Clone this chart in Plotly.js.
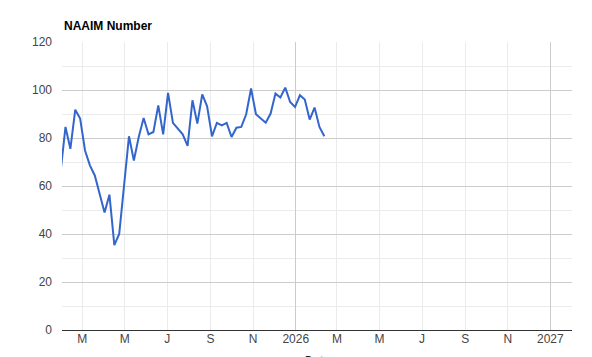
<!DOCTYPE html>
<html>
<head>
<meta charset="utf-8">
<script src="https://cdn.plot.ly/plotly-3.0.1.min.js"></script>
<style>
  html, body { margin: 0; padding: 0; background: #ffffff; }
  #chart { width: 592px; height: 357px; }
</style>
</head>
<body>
<div id="chart"></div>
<script>
// Weekly NAAIM Exposure Index readings (survey dates, Wednesdays)
const weekDates = [
  '2025-01-29', '2025-02-05', '2025-02-12', '2025-02-19', '2025-02-26',
  '2025-03-05', '2025-03-12', '2025-03-19', '2025-03-26', '2025-04-02',
  '2025-04-09', '2025-04-16', '2025-04-23', '2025-04-30', '2025-05-07',
  '2025-05-14', '2025-05-21', '2025-05-28', '2025-06-04', '2025-06-11',
  '2025-06-18', '2025-06-25', '2025-07-02', '2025-07-09', '2025-07-16',
  '2025-07-23', '2025-07-30', '2025-08-06', '2025-08-13', '2025-08-20',
  '2025-08-27', '2025-09-03', '2025-09-10', '2025-09-17', '2025-09-24',
  '2025-10-01', '2025-10-08', '2025-10-15', '2025-10-22', '2025-10-29',
  '2025-11-05', '2025-11-12', '2025-11-19', '2025-11-26', '2025-12-03',
  '2025-12-10', '2025-12-17', '2025-12-24', '2025-12-31', '2026-01-07',
  '2026-01-14', '2026-01-21', '2026-01-28', '2026-02-04', '2026-02-11'
];

const naaimValues = [
  66.0, 84.6, 75.5, 91.8, 88.1,
  74.8, 68.6, 64.4, 56.7, 49.0,
  56.4, 35.4, 40.0, 60.0, 80.7,
  70.6, 80.4, 88.3, 81.5, 82.5,
  93.6, 81.5, 98.8, 86.3, 83.9,
  81.5, 76.7, 95.7, 86.0, 98.2,
  93.2, 80.7, 86.3, 85.3, 86.3,
  80.4, 84.3, 84.6, 89.9, 100.6,
  89.9, 88.1, 86.4, 90.2, 98.5,
  96.9, 101.0, 95.0, 92.9, 97.8,
  96.0, 87.7, 92.7, 84.6, 80.7
];

// Axis ticks: every other month, years spelled out
const monthTickDates = [
  '2025-03-01', '2025-05-01', '2025-07-01', '2025-09-01', '2025-11-01', '2026-01-01',
  '2026-03-01', '2026-05-01', '2026-07-01', '2026-09-01', '2026-11-01', '2027-01-01'
];
const monthTickLabels = ['M', 'M', 'J', 'S', 'N', '2026', 'M', 'M', 'J', 'S', 'N', '2027'];
const yearTickDates = ['2026-01-01', '2027-01-01'];
const xWindow = ['2025-01-31', '2027-02-01'];

const FONT = 'Arial, "Liberation Sans", sans-serif';

const traces = [{
  type: 'scatter',
  mode: 'lines',
  x: weekDates,
  y: naaimValues,
  line: { color: '#3366cc', width: 2 },
  hoverinfo: 'skip',
  showlegend: false
}];

// Empty trace so the year gridline axis is rendered
traces.push({
  type: 'scatter', mode: 'lines', x: [], y: [], xaxis: 'x2', yaxis: 'y',
  hoverinfo: 'skip', showlegend: false
});

const layout = {
  width: 592,
  height: 357,
  margin: { l: 62, r: 20, t: 42, b: 27, pad: 0 },
  paper_bgcolor: '#ffffff',
  plot_bgcolor: '#ffffff',
  font: { family: FONT, size: 12, color: '#444444' },
  showlegend: false,
  xaxis: {
    type: 'date',
    range: xWindow,
    tickmode: 'array',
    tickvals: monthTickDates,
    ticktext: monthTickLabels,
    ticks: '',
    showline: false,
    zeroline: false,
    showgrid: true,
    gridcolor: '#ebebeb',
    gridwidth: 1,
    tickfont: { family: FONT, size: 12, color: '#444444' }
  },
  xaxis2: {
    type: 'date',
    overlaying: 'x',
    matches: 'x',
    range: xWindow,
    tickmode: 'array',
    tickvals: yearTickDates,
    showticklabels: false,
    ticks: '',
    showline: false,
    zeroline: false,
    showgrid: true,
    gridcolor: '#cccccc',
    gridwidth: 1
  },
  yaxis: {
    range: [0, 120],
    tickmode: 'linear',
    tick0: 0,
    dtick: 20,
    ticks: '',
    showline: false,
    showgrid: true,
    gridcolor: '#cccccc',
    gridwidth: 1,
    minor: { dtick: 10, tick0: 0, showgrid: true, gridcolor: '#ebebeb', gridwidth: 1, ticks: '' },
    zeroline: true,
    zerolinecolor: '#333333',
    zerolinewidth: 1,
    ticklabelstandoff: 9,
    tickfont: { family: FONT, size: 12, color: '#444444' }
  },
  annotations: [
    {
      text: '<b>NAAIM Number</b>',
      xref: 'paper', yref: 'paper',
      x: 0, y: 1,
      xanchor: 'left', yanchor: 'middle',
      yshift: 16,
      showarrow: false,
      font: { family: FONT, size: 12, color: '#000000' }
    },
    {
      // x-axis title, sitting at the bottom edge of the page
      text: '<i>Date</i>',
      xref: 'paper', yref: 'paper',
      x: 0.5, y: 0,
      xanchor: 'center', yanchor: 'top',
      yshift: -22,
      showarrow: false,
      font: { family: FONT, size: 12, color: '#222222' }
    }
  ]
};

Plotly.newPlot('chart', traces, layout, { staticPlot: true, displayModeBar: false });
</script>
</body>
</html>
